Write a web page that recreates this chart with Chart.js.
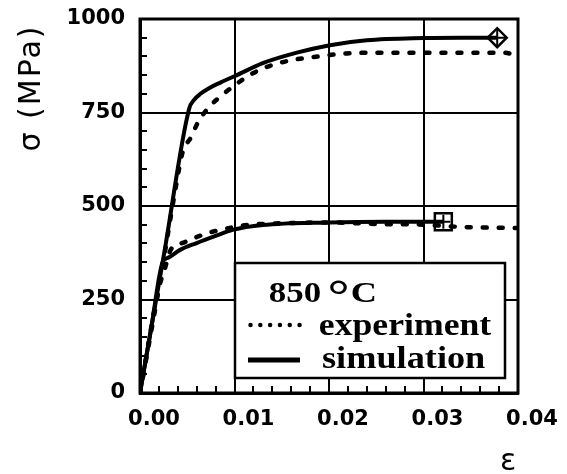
<!DOCTYPE html>
<html><head><meta charset="utf-8">
<script src="https://cdn.jsdelivr.net/npm/chart.js@4/dist/chart.umd.min.js"></script>
<style>html,body{margin:0;padding:0;background:#fff;}canvas{display:block;}</style>
</head><body>
<canvas id="c" width="567" height="474"></canvas>
<script>
// ---- data ----
const upperSimStrain = [0, 0.0026, 0.0052, 0.0057, 0.0064, 0.0073, 0.0085, 0.0100, 0.0130, 0.0166, 0.0201, 0.0240, 0.0300, 0.0340, 0.0378];
const upperSimStress = [0, 380, 760, 783, 800, 815, 830, 847, 882, 910, 930, 943, 949, 950, 950];
const upperExpStrain = [0, 0.0020, 0.0038, 0.0045, 0.0054, 0.0062, 0.0073, 0.0088, 0.0102, 0.0116, 0.0132, 0.0150, 0.0167, 0.0183, 0.0219, 0.0260, 0.0300, 0.0350, 0.0385, 0.0398];
const upperExpStress = [0, 280, 552, 643, 684, 727, 764, 799, 826, 850, 870, 884, 893, 898, 908, 910, 910, 910, 910, 903];
const lowerSimStrain = [0, 0.0012, 0.0024, 0.0030, 0.0042, 0.0060, 0.0080, 0.0098, 0.0130, 0.0200, 0.0260, 0.0321];
const lowerSimStress = [0, 176, 350, 362, 382, 401, 420, 436, 449, 456, 458, 458];
const lowerExpStrain = [0, 0.0020, 0.0026, 0.0033, 0.0046, 0.0061, 0.0078, 0.0096, 0.0116, 0.0130, 0.0200, 0.0250, 0.0300, 0.0340, 0.0400];
const lowerExpStress = [0, 281, 330, 385, 402, 418, 432, 442, 450, 452, 456, 452, 450, 444, 441];
const markerStrain = [0.0378, 0.0321];
const markerStress = [950, 458];
const markerStyles = ['rectRot', 'rect'];

const xTickLabels = ['0.00', '0.01', '0.02', '0.03', '0.04'];
const yTickLabels = ['0', '250', '500', '750', '1000'];
const legendTemp = '850', legendDeg = '°', legendUnit = 'C';
const seriesNames = ['experiment', 'simulation'];
const yTitle = 'σ (MPa)';
const xTitle = 'ε';

function pts(xs, ys) { return xs.map((x, i) => ({x: x, y: ys[i]})); }
function xMajor(v) { return Math.abs(v * 100 - Math.round(v * 100)) < 1e-6; }
function yMajor(v) { return Math.abs(v / 250 - Math.round(v / 250)) < 1e-6; }

const frame = {
  id: 'frame',
  afterDraw(chart) {
    const {ctx, chartArea: a} = chart;
    ctx.save();
    ctx.strokeStyle = '#000'; ctx.lineWidth = 3;
    ctx.strokeRect(a.left, a.top, a.right - a.left, a.bottom - a.top);
    ctx.restore();
  }
};

function drawFit(ctx, text, font, left, baseline, targetW) {
  ctx.save();
  ctx.font = font;
  const m = ctx.measureText(text);
  const w = m.actualBoundingBoxLeft + m.actualBoundingBoxRight;
  const sx = targetW / w;
  ctx.translate(left, baseline);
  ctx.scale(sx, 1);
  ctx.textAlign = 'left'; ctx.textBaseline = 'alphabetic';
  ctx.fillText(text, m.actualBoundingBoxLeft, 0);
  ctx.restore();
}

const legendBox = {
  id: 'legendBox',
  afterDatasetsDraw(chart) {
    const ctx = chart.ctx;
    const L = 235, T = 263, R = 505, B = 378;
    ctx.save();
    ctx.fillStyle = '#fff';
    ctx.fillRect(L, T, R - L, B - T);
    ctx.strokeStyle = '#000'; ctx.lineWidth = 2.5;
    ctx.strokeRect(L, T, R - L, B - T);
    ctx.fillStyle = '#000';
    const serif = '"Liberation Serif", "Times New Roman", serif';
    drawFit(ctx, legendTemp, 'bold 30px ' + serif, 270, 302, 50);
    // degree sign positioned by its ink box
    ctx.save();
    ctx.font = 'bold 46px ' + serif;
    const dm = ctx.measureText(legendDeg);
    const dw = dm.actualBoundingBoxLeft + dm.actualBoundingBoxRight;
    const dh = dm.actualBoundingBoxAscent + dm.actualBoundingBoxDescent;
    ctx.translate(330, 280);
    ctx.scale(18 / dw, 13.5 / dh);
    ctx.textBaseline = 'alphabetic';
    ctx.fillText(legendDeg, dm.actualBoundingBoxLeft, dm.actualBoundingBoxAscent);
    ctx.restore();
    drawFit(ctx, legendUnit, 'bold 30px ' + serif, 352, 302, 23);
    drawFit(ctx, seriesNames[0], 'bold 31px ' + serif, 320, 335, 172);
    drawFit(ctx, seriesNames[1], 'bold 31px ' + serif, 322, 368, 163);
    // samples
    ctx.strokeStyle = '#000';
    ctx.lineCap = 'round';
    ctx.lineWidth = 4.5;
    ctx.setLineDash([0.01, 9.8]);
    ctx.beginPath(); ctx.moveTo(250.5, 325); ctx.lineTo(300, 325); ctx.stroke();
    ctx.setLineDash([]);
    ctx.lineCap = 'butt';
    ctx.lineWidth = 5;
    ctx.beginPath(); ctx.moveTo(248, 360); ctx.lineTo(300, 360); ctx.stroke();
    ctx.restore();
  }
};

const titles = {
  id: 'titles',
  afterDraw(chart) {
    const ctx = chart.ctx;
    ctx.save();
    ctx.fillStyle = '#000';
    ctx.font = '30px "DejaVu Sans"';
    try { ctx.letterSpacing = '2px'; } catch (e) {}
    ctx.translate(40, 88);
    ctx.rotate(-Math.PI / 2);
    ctx.textAlign = 'center'; ctx.textBaseline = 'alphabetic';
    ctx.fillText(yTitle, 0, 0);
    ctx.restore();
    ctx.save();
    ctx.fillStyle = '#000';
    ctx.font = '30px "DejaVu Sans"';
    ctx.textAlign = 'center'; ctx.textBaseline = 'middle';
    ctx.fillText(xTitle, 508, 462);
    ctx.restore();
  }
};

const expStyle = {borderColor: '#000', borderWidth: 4.5, borderDash: [4, 12], borderCapStyle: 'round', pointRadius: 0, fill: false, cubicInterpolationMode: 'monotone'};
const simStyle = {borderColor: '#000', borderWidth: 4, pointRadius: 0, fill: false, cubicInterpolationMode: 'monotone'};

new Chart(document.getElementById('c'), {
  type: 'line',
  data: {
    datasets: [
      Object.assign({label: seriesNames[1] + ' upper', data: pts(upperSimStrain, upperSimStress)}, simStyle),
      Object.assign({label: seriesNames[1] + ' lower', data: pts(lowerSimStrain, lowerSimStress)}, simStyle),
      Object.assign({label: seriesNames[0] + ' upper', data: pts(upperExpStrain, upperExpStress)}, expStyle),
      Object.assign({label: seriesNames[0] + ' lower', data: pts(lowerExpStrain, lowerExpStress)}, expStyle),
      {label: 'markers', data: pts(markerStrain, markerStress), showLine: false,
       pointStyle: markerStyles, pointRadius: [9.5, 12], pointBorderWidth: 2.5,
       pointBorderColor: '#000', pointBackgroundColor: 'rgba(255,255,255,0)'},
      {label: 'marker cross', data: pts(markerStrain, markerStress), showLine: false,
       pointStyle: 'cross', pointRadius: [8, 7], pointBorderWidth: 2,
       pointBorderColor: '#000'}
    ]
  },
  options: {
    responsive: false,
    animation: false,
    layout: {padding: {left: 0, right: 49, top: 19, bottom: 0}},
    plugins: {legend: {display: false}, tooltip: {enabled: false}},
    scales: {
      x: {
        type: 'linear', min: 0, max: 0.04,
        afterFit(s) { s.height = 81; s.paddingLeft = 0; s.paddingRight = 0; },
        border: {color: '#000', width: 3},
        grid: {
          color: '#000',
          lineWidth: (c) => (c.tick && !xMajor(c.tick.value)) ? 0 : 2,
          tickColor: '#000', tickWidth: 2, tickLength: -7, drawTicks: true
        },
        ticks: {
          stepSize: 0.002, autoSkip: false, maxRotation: 0, minRotation: 0,
          labelOffset: 14, padding: 21, color: '#000',
          font: {family: 'DejaVu Sans', weight: 'bold', size: 21},
          callback: (v) => xMajor(v) ? xTickLabels[Math.round(v * 100)] : ''
        }
      },
      y: {
        min: 0, max: 1000,
        afterFit(s) { s.width = 140; s.paddingTop = 0; s.paddingBottom = 0; },
        border: {color: '#000', width: 3},
        grid: {
          color: '#000',
          lineWidth: (c) => (c.tick && !yMajor(c.tick.value)) ? 0 : 2,
          tickColor: '#000', tickWidth: 2, tickLength: -7, drawTicks: true
        },
        ticks: {
          stepSize: 50, autoSkip: false, padding: 22, color: '#000',
          font: {family: 'DejaVu Sans', weight: 'bold', size: 21},
          callback: (v) => yMajor(v) ? yTickLabels[Math.round(v / 250)] : ''
        }
      }
    }
  },
  plugins: [legendBox, frame, titles]
});
</script>
</body></html>
